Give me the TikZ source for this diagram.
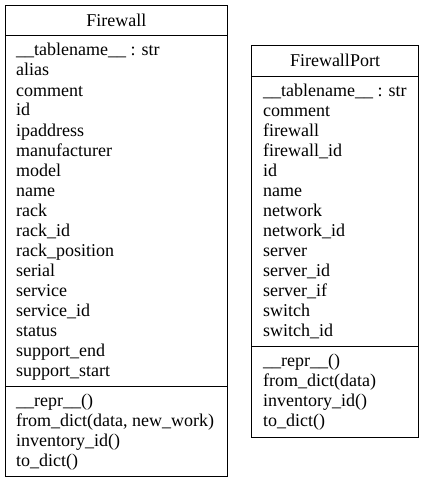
\documentclass[tikz,border=0pt]{standalone}
\usepackage{fontspec}
\setmainfont{Liberation Serif}
\begin{document}
\begin{tikzpicture}[x=1pt,y=-1pt,
  box/.style={draw=black,line width=1pt},
  sep/.style={draw=black,line width=1pt},
  txt/.style={anchor=base west,inner sep=0pt,font=\fontsize{18}{20}\selectfont},
  ttl/.style={anchor=base,inner sep=0pt,font=\fontsize{18}{20}\selectfont}]
\useasboundingbox (0,0) rectangle (424,484);
% Firewall
\draw[box] (5.5,5.5) rectangle (227.3,476.5);
\draw[sep] (5.5,36) -- (227.3,36);
\draw[sep] (5.5,386) -- (227.3,386);
\node[ttl] (fwt) at (116.4,26.5) {Firewall};
\foreach \t [count=\i from 0] in {\_\_tablename\_\_ : str,alias,comment,id,ipaddress,manufacturer,model,name,rack,rack\_id,rack\_position,serial,service,service\_id,status,support\_end,support\_start}
  \node[txt] (fwa\i) at (16,56+20*\i) {\t};
\foreach \t [count=\i from 0] in {\_\_repr\_\_(),{from\_dict(data, new\_work)},inventory\_id(),to\_dict()}
  \node[txt] (fwm\i) at (16,406+20*\i) {\t};
% FirewallPort
\draw[box] (251.7,45.7) rectangle (418.3,437);
\draw[sep] (251.7,76.5) -- (418.3,76.5);
\draw[sep] (251.7,346.5) -- (418.3,346.5);
\node[ttl] (fpt) at (335,66.5) {FirewallPort};
\foreach \t [count=\i from 0] in {\_\_tablename\_\_ : str,comment,firewall,firewall\_id,id,name,network,network\_id,server,server\_id,server\_if,switch,switch\_id}
  \node[txt] (fpa\i) at (263,96.5+20*\i) {\t};
\foreach \t [count=\i from 0] in {\_\_repr\_\_(),from\_dict(data),inventory\_id(),to\_dict()}
  \node[txt] (fpm\i) at (263,366.5+20*\i) {\t};
\end{tikzpicture}
\end{document}
